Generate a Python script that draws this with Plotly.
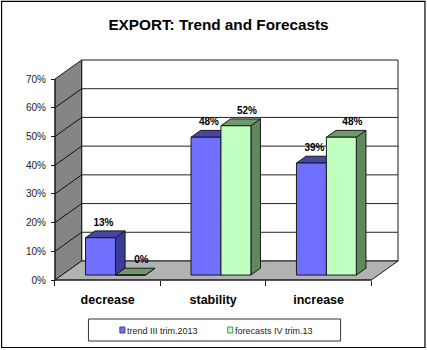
import plotly.graph_objects as go

# ---------------- data ----------------
categories = ["decrease", "stability", "increase"]
trend_values = [13, 48, 39]        # trend III trim.2013 (%)
forecast_values = [0, 52, 48]      # forecasts IV trim.13 (%)
series_names = ["trend III trim.2013", "forecasts IV trim.13"]
y_ticks = [0, 10, 20, 30, 40, 50, 60, 70]
title_text = "EXPORT: Trend and Forecasts"

# ---------------- geometry / style ----------------
W, H = 427, 350
SX = 105.6          # px per category unit
SY = 2.871          # px per percent
X0_PX, Y0_PX = 55, 280   # pixel of (x=0, y=0%)
PAD = 4
DX, DY = 26.7 / SX, 19 / SY       # depth of the 3-D box in data units
F1, F2 = 0.26, 0.62               # bar front/back depth fraction
BAR_W = 0.284
GROUP_LEFT = 0.224
YMAX = 70

ml = X0_PX - PAD
x_right_px = X0_PX + (3 + DX) * SX + PAD
mr = W - x_right_px
pw = x_right_px - ml
mt = Y0_PX - (YMAX + DY) * SY - PAD
mb = H - (Y0_PX + PAD)
ph = H - mt - mb

FONT = "Arial, Liberation Sans, sans-serif"
BLUE = ["#7070ff", "#3b3b98", "#4646a6"]    # front, side, top
GREEN = ["#c0ffc0", "#5d895d", "#6b9b6b"]
EDGE = "#1a1a1a"


def px2paper_x(px):
    return (px - ml) / pw


def px2paper_y(py):
    return 1 - (py - mt) / ph


fig = go.Figure()


def poly(xs, ys, fill, width=1.0, color=EDGE):
    fig.add_trace(go.Scatter(
        x=list(xs) + [xs[0]], y=list(ys) + [ys[0]], mode="lines", fill="toself",
        fillcolor=fill, line=dict(color=color, width=width),
        hoverinfo="skip", showlegend=False, cliponaxis=False))


def line(xs, ys, color=EDGE, width=1.0):
    fig.add_trace(go.Scatter(x=xs, y=ys, mode="lines", line=dict(color=color, width=width),
                             hoverinfo="skip", showlegend=False, cliponaxis=False))


n = len(categories)
# back wall
poly([DX, n + DX, n + DX, DX], [DY, DY, YMAX + DY, YMAX + DY], "white")
for t in y_ticks[1:-1]:
    line([DX, n + DX], [t + DY, t + DY], color="#222222", width=1)
# left wall
poly([0, 0, DX, DX], [0, YMAX, YMAX + DY, DY], "#858585")
for t in y_ticks[1:-1]:
    line([0, DX], [t, t + DY], color="#111111", width=1)
# floor
poly([0, n, n + DX, DX], [0, 0, DY, DY], "#b2b2b2")


def bar(left, v, cols):
    a, b = left + F1 * DX, left + BAR_W + F1 * DX
    a2, b2 = left + F2 * DX, left + BAR_W + F2 * DX
    y1, y2 = F1 * DY, F2 * DY
    # side face
    poly([b, b2, b2, b], [y1, y2, v + y2, v + y1], cols[1])
    # top face
    poly([a, b, b2, a2], [v + y1, v + y1, v + y2, v + y2], cols[2])
    # front face
    poly([a, b, b, a], [y1, y1, v + y1, v + y1], cols[0])


label_x, label_y, label_t = [], [], []
for i in range(n):
    lb = i + GROUP_LEFT
    lg = lb + BAR_W
    bar(lb, trend_values[i], BLUE)
    bar(lg, forecast_values[i], GREEN)
    label_x += [lb + BAR_W / 2 + F1 * DX + 3 / SX, lg + BAR_W / 2 + F1 * DX + 11 / SX]
    label_y += [trend_values[i] + F1 * DY + 14.6 / SY, forecast_values[i] + F1 * DY + 14.6 / SY]
    label_t += [f"{trend_values[i]}%", f"{forecast_values[i]}%"]

fig.add_trace(go.Scatter(
    x=label_x, y=label_y, text=label_t, mode="text", textposition="middle center",
    textfont=dict(family=FONT, size=10, color="black", weight="bold"),
    hoverinfo="skip", showlegend=False, cliponaxis=False))

# front axis line
line([0, 0], [0, YMAX], color=EDGE, width=1)
line([0, n], [0, 0], color=EDGE, width=1)

# ---------------- manual legend ----------------
shapes = [
    dict(type="rect", xref="paper", yref="paper",
         x0=px2paper_x(1.5), x1=px2paper_x(425.5), y0=px2paper_y(1.5), y1=px2paper_y(347.5),
         line=dict(color="black", width=1.2), fillcolor="rgba(0,0,0,0)", layer="below"),
    dict(type="rect", xref="paper", yref="paper",
         x0=px2paper_x(88.5), x1=px2paper_x(341), y0=px2paper_y(319), y1=px2paper_y(341),
         line=dict(color="#333333", width=1), fillcolor="white"),
]
annotations = []
legend_items = [(series_names[0], BLUE, 120), (series_names[1], GREEN, 228)]
for name, cols, xpx in legend_items:
    shapes.append(dict(type="rect", xref="paper", yref="paper",
                       x0=px2paper_x(xpx), x1=px2paper_x(xpx + 5),
                       y0=px2paper_y(327), y1=px2paper_y(333),
                       line=dict(color=cols[1], width=1), fillcolor=cols[0]))
    annotations.append(dict(text=name, xref="paper", yref="paper",
                            x=px2paper_x(xpx + 5.5), y=px2paper_y(330.5),
                            xanchor="left", yanchor="middle", showarrow=False,
                            font=dict(family=FONT, size=9, color="#222222")))

fig.update_layout(
    width=W, height=H,
    margin=dict(l=ml, r=mr, t=mt, b=mb, pad=0),
    paper_bgcolor="white", plot_bgcolor="white",
    showlegend=False,
    title=dict(text=f"<b>{title_text}</b>", x=218.5 / W, xref="container", xanchor="center",
               y=1 - 25 / H, yref="container", yanchor="middle",
               font=dict(family=FONT, size=15.3, color="black")),
    xaxis=dict(range=[-PAD / SX, n + DX + PAD / SX], showgrid=False, zeroline=False,
               showline=False, tickvals=[i + 0.5 for i in range(n)], ticktext=categories,
               ticks="", ticklabelstandoff=11, anchor="free", position=PAD / ph,
               tickfont=dict(family=FONT, size=12.5, color="black", weight="bold"),
               minor=dict(tickvals=list(range(n + 1)), ticks="outside", ticklen=5,
                          tickcolor=EDGE, tickwidth=1),
               fixedrange=True),
    yaxis=dict(range=[-PAD / SY, YMAX + DY + PAD / SY], showgrid=False, zeroline=False,
               showline=False, tickvals=y_ticks, ticktext=[f"{t}%" for t in y_ticks],
               ticks="outside", ticklen=4, tickcolor=EDGE, ticklabelstandoff=3,
               anchor="free", position=PAD / pw,
               tickfont=dict(family=FONT, size=10, color="#222222"), fixedrange=True),
    shapes=shapes, annotations=annotations,
)

fig.write_html("out.html")
